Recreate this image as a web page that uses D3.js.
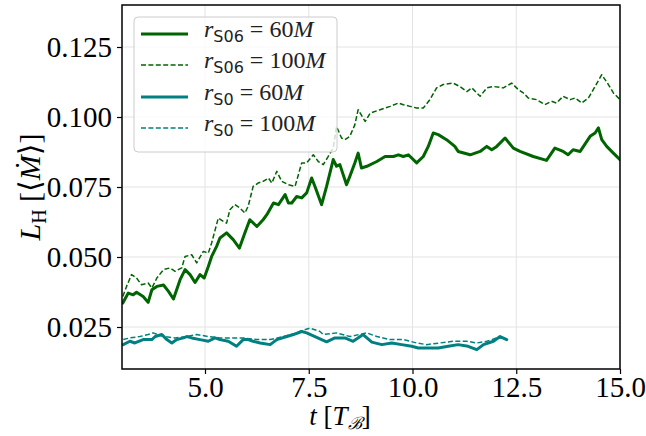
<!DOCTYPE html>
<html><head><meta charset="utf-8">
<script src="https://cdn.jsdelivr.net/npm/d3@7"></script>
<style>body{margin:0;background:#fff}svg{display:block}</style>
</head><body>
<svg id="c" width="646" height="436"></svg>
<script>
const xTicks = [5.0, 7.5, 10.0, 12.5, 15.0];
const yTicks = [0.025, 0.050, 0.075, 0.100, 0.125];
const seriesNames = ["rS06_60", "rS06_100", "rS0_60", "rS0_100"];

const g60 = [[3.02,0.0336],[3.15,0.0371],[3.27,0.0365],[3.35,0.0374],[3.51,0.0359],[3.63,0.0338],[3.72,0.0383],[3.84,0.0395],[4.00,0.0400],[4.12,0.0377],[4.24,0.0350],[4.40,0.0419],[4.52,0.0455],[4.64,0.0437],[4.76,0.0409],[4.88,0.0437],[4.98,0.0425],[5.08,0.0466],[5.16,0.0502],[5.28,0.0538],[5.36,0.0568],[5.52,0.0586],[5.68,0.0562],[5.83,0.0532],[5.96,0.0586],[6.08,0.0633],[6.25,0.0609],[6.40,0.0633],[6.49,0.0651],[6.65,0.0693],[6.77,0.0687],[6.93,0.0723],[7.01,0.0693],[7.09,0.0693],[7.21,0.0716],[7.33,0.0711],[7.45,0.0729],[7.57,0.0782],[7.65,0.0752],[7.81,0.0687],[7.93,0.0752],[8.09,0.0848],[8.17,0.0824],[8.25,0.0830],[8.41,0.0758],[8.49,0.0788],[8.61,0.0836],[8.69,0.0871],[8.77,0.0818],[8.90,0.0824],[9.14,0.0841],[9.34,0.0859],[9.54,0.0859],[9.66,0.0865],[9.78,0.0859],[9.90,0.0865],[10.10,0.0836],[10.26,0.0859],[10.38,0.0895],[10.50,0.0943],[10.62,0.0937],[10.82,0.0919],[11.02,0.0895],[11.10,0.0877],[11.39,0.0865],[11.63,0.0877],[11.79,0.0895],[11.91,0.0883],[12.03,0.0895],[12.23,0.0925],[12.43,0.0889],[12.59,0.0877],[12.91,0.0859],[13.23,0.0845],[13.43,0.0889],[13.63,0.0877],[13.75,0.0865],[13.87,0.0883],[14.04,0.0877],[14.28,0.0931],[14.40,0.0943],[14.48,0.0961],[14.56,0.0919],[14.68,0.0895],[14.84,0.0871],[15.00,0.0848]];

const g100 = [[3.02,0.0359],[3.11,0.0395],[3.23,0.0437],[3.35,0.0425],[3.47,0.0401],[3.63,0.0407],[3.72,0.0389],[3.84,0.0425],[4.00,0.0455],[4.16,0.0461],[4.28,0.0449],[4.44,0.0461],[4.52,0.0502],[4.68,0.0508],[4.80,0.0479],[4.96,0.0520],[5.08,0.0514],[5.16,0.0550],[5.32,0.0639],[5.44,0.0627],[5.52,0.0621],[5.60,0.0669],[5.72,0.0687],[5.84,0.0675],[5.96,0.0657],[6.04,0.0681],[6.16,0.0752],[6.28,0.0764],[6.40,0.0770],[6.53,0.0782],[6.61,0.0764],[6.73,0.0806],[6.85,0.0770],[7.01,0.0758],[7.17,0.0752],[7.33,0.0836],[7.45,0.0836],[7.61,0.0865],[7.73,0.0841],[7.85,0.0830],[7.97,0.0859],[8.09,0.0890],[8.17,0.0966],[8.29,0.0925],[8.37,0.0919],[8.49,0.0931],[8.61,0.0972],[8.69,0.1026],[8.86,0.0984],[8.98,0.1014],[9.22,0.1026],[9.46,0.1038],[9.66,0.1050],[9.78,0.1044],[9.94,0.1038],[10.10,0.1032],[10.26,0.1032],[10.42,0.1062],[10.58,0.1104],[10.74,0.1116],[10.98,0.1121],[11.14,0.1109],[11.31,0.1091],[11.43,0.1104],[11.63,0.1074],[11.79,0.1104],[11.95,0.1109],[12.19,0.1104],[12.39,0.1121],[12.55,0.1098],[12.67,0.1086],[12.79,0.1068],[12.99,0.1062],[13.19,0.1044],[13.35,0.1056],[13.47,0.1050],[13.63,0.1074],[13.80,0.1062],[13.92,0.1068],[14.08,0.1050],[14.24,0.1068],[14.40,0.1109],[14.56,0.1151],[14.72,0.1116],[14.84,0.1086],[15.00,0.1062]];

const t60 = [[3.03,0.0187],[3.19,0.0199],[3.31,0.0193],[3.51,0.0205],[3.72,0.0205],[3.80,0.0216],[3.96,0.0223],[4.08,0.0205],[4.20,0.0193],[4.32,0.0205],[4.48,0.0211],[4.56,0.0216],[4.68,0.0211],[4.88,0.0205],[5.08,0.0199],[5.24,0.0211],[5.36,0.0205],[5.56,0.0199],[5.76,0.0181],[5.92,0.0205],[6.04,0.0205],[6.16,0.0199],[6.33,0.0193],[6.57,0.0187],[6.73,0.0205],[6.97,0.0216],[7.13,0.0223],[7.33,0.0234],[7.45,0.0229],[7.65,0.0216],[7.93,0.0197],[8.13,0.0211],[8.37,0.0211],[8.57,0.0199],[8.81,0.0223],[9.02,0.0196],[9.26,0.0187],[9.50,0.0193],[9.74,0.0187],[9.98,0.0181],[10.14,0.0175],[10.38,0.0175],[10.62,0.0175],[10.86,0.0181],[11.10,0.0187],[11.34,0.0181],[11.55,0.0169],[11.71,0.0187],[11.95,0.0199],[12.11,0.0216],[12.27,0.0205]];

const t100 = [[3.03,0.0205],[3.19,0.0211],[3.43,0.0216],[3.63,0.0223],[3.75,0.0229],[4.00,0.0216],[4.28,0.0211],[4.56,0.0216],[4.80,0.0223],[5.08,0.0216],[5.36,0.0211],[5.64,0.0211],[5.92,0.0211],[6.25,0.0205],[6.57,0.0205],[6.89,0.0216],[7.13,0.0225],[7.33,0.0237],[7.53,0.0246],[7.77,0.0234],[7.85,0.0223],[8.17,0.0229],[8.49,0.0216],[8.90,0.0229],[9.14,0.0216],[9.46,0.0205],[9.78,0.0205],[10.10,0.0193],[10.34,0.0187],[10.66,0.0193],[10.98,0.0199],[11.31,0.0199],[11.55,0.0193],[11.79,0.0199],[12.03,0.0211],[12.19,0.0211]];

const GREEN = "#006400", TEAL = "#008080";
const series = [
  {name: seriesNames[0], data: g60, color: GREEN, w: 3, dash: null, sub: "S06", val: "60"},
  {name: seriesNames[1], data: g100, color: GREEN, w: 1.5, dash: "5,2.4", sub: "S06", val: "100"},
  {name: seriesNames[2], data: t60, color: TEAL, w: 3, dash: null, sub: "S0", val: "60"},
  {name: seriesNames[3], data: t100, color: TEAL, w: 1.5, dash: "5,2.4", sub: "S0", val: "100"}
];

const L = 122, R = 620, T = 5, B = 369;
const svg = d3.select("#c");
const x = d3.scaleLinear().domain([3, 15]).range([L, R]);
const y = d3.scaleLinear().domain([0.01, 0.14]).range([B, T]);
const serif = "'Liberation Serif', 'DejaVu Serif', serif";

// grid
const grid = svg.append("g");
grid.selectAll(".gx").data(xTicks).join("line")
  .attr("x1", d => x(d)).attr("x2", d => x(d)).attr("y1", T).attr("y2", B)
  .attr("stroke", "#e3e3e3").attr("stroke-width", 1);
grid.selectAll(".gy").data(yTicks).join("line")
  .attr("y1", d => y(d)).attr("y2", d => y(d)).attr("x1", L).attr("x2", R)
  .attr("stroke", "#e3e3e3").attr("stroke-width", 1);

svg.append("clipPath").attr("id", "clip").append("rect")
  .attr("x", L).attr("y", T).attr("width", R - L).attr("height", B - T);

const line = d3.line().x(d => x(d[0])).y(d => y(d[1]));
const lines = svg.append("g").attr("clip-path", "url(#clip)");
series.forEach(s => {
  lines.append("path").datum(s.data).attr("d", line)
    .attr("fill", "none").attr("stroke", s.color).attr("stroke-width", s.w)
    .attr("stroke-linejoin", "round").attr("stroke-linecap", s.dash ? "butt" : "round")
    .attr("stroke-dasharray", s.dash);
});

// axes
const xAxis = d3.axisBottom(x).tickValues(xTicks).tickFormat(d3.format(".1f")).tickSizeOuter(0).tickSize(5).tickPadding(3);
const yAxis = d3.axisLeft(y).tickValues(yTicks).tickFormat(d3.format(".3f")).tickSizeOuter(0).tickSize(5).tickPadding(5);
const gx = svg.append("g").attr("transform", `translate(0,${B})`).call(xAxis);
const gy = svg.append("g").attr("transform", `translate(${L},0)`).call(yAxis);
[gx, gy].forEach(g => {
  g.attr("font-family", null);
  g.select(".domain").remove();
  g.selectAll("line").attr("stroke", "#000").attr("stroke-width", 1.2);
  g.selectAll("text").style("font-family", serif).style("font-size", "29px").attr("fill", "#000");
});
gx.selectAll("text").attr("dy", "0.69em");
gy.selectAll("text").attr("dy", "0.34em");

// frame
svg.append("rect").attr("x", L).attr("y", T).attr("width", R - L).attr("height", B - T)
  .attr("fill", "none").attr("stroke", "#000").attr("stroke-width", 1.5);

// x label
const xl = svg.append("text").attr("x", 340).attr("y", 425).attr("text-anchor", "middle")
  .style("font-family", serif).style("font-size", "27px").attr("fill", "#000");
xl.append("tspan").attr("font-style", "italic").text("t");
xl.append("tspan").text(" [");
xl.append("tspan").attr("font-style", "italic").text("T");
xl.append("tspan").style("font-size", "17px").attr("dy", 4).attr("font-style", "italic").text("\u212C");
xl.append("tspan").attr("dy", -4).text("]");

// y label
const yl = svg.append("text").attr("transform", "translate(40,187) rotate(-90)").attr("text-anchor", "middle")
  .style("font-family", serif).style("font-size", "30px").attr("fill", "#000");
yl.append("tspan").attr("font-style", "italic").text("L");
yl.append("tspan").style("font-size", "20px").attr("dy", 6).text("H");
yl.append("tspan").attr("dy", -6).text(" [\u27E8");
yl.append("tspan").attr("font-style", "italic").text("M\u0307");
yl.append("tspan").text("\u27E9]");

// legend
const lg = svg.append("g");
lg.append("rect").attr("x", 134).attr("y", 17).attr("width", 203).attr("height", 135)
  .attr("rx", 4).attr("fill", "#fff").attr("fill-opacity", 0.8)
  .attr("stroke", "#cccccc").attr("stroke-width", 1);
const ly = [34, 65, 97, 128];
series.forEach((s, i) => {
  lg.append("line").attr("x1", 141).attr("x2", 188).attr("y1", ly[i]).attr("y2", ly[i])
    .attr("stroke", s.color).attr("stroke-width", s.w).attr("stroke-dasharray", s.dash);
  const t = lg.append("text").attr("x", 204).attr("y", ly[i] + 3)
    .style("font-family", serif).style("font-size", "24px").attr("fill", "#222");
  t.append("tspan").attr("font-style", "italic").text("r");
  t.append("tspan").style("font-family", "'DejaVu Sans', sans-serif").style("font-size", "16px").attr("dy", 5).text(s.sub);
  t.append("tspan").attr("dy", -5).text(" = " + s.val);
  t.append("tspan").attr("font-style", "italic").text("M");
});
</script>
</body></html>
